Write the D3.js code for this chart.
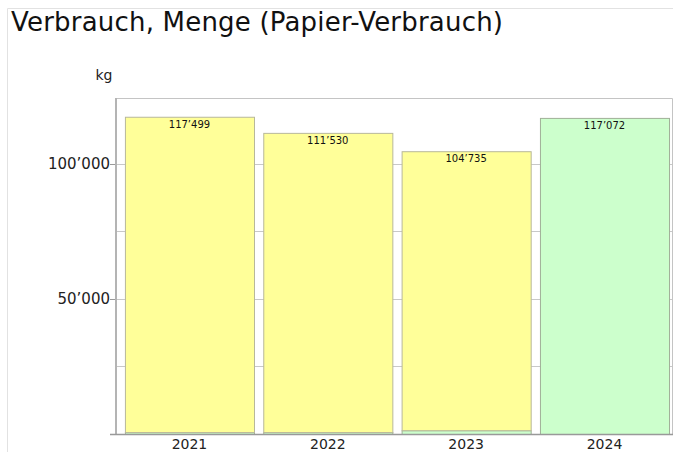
<!DOCTYPE html>
<html>
<head>
<meta charset="utf-8">
<script src="https://cdn.jsdelivr.net/npm/d3@7"></script>
<style>
  body { margin: 0; background: #fff; }
  svg { font-family: "DejaVu Sans", Verdana, sans-serif; }
</style>
</head>
<body>
<div id="chart"></div>
<script>
let width = 673,
    height = 452

// DATA
const years = ["2021", "2022", "2023", "2024"]
const recycling = [700, 700, 1400, 117072]
const frischfaser = [116799, 110830, 103335, 0]
const totals = [117499, 111530, 104735, 117072]
const yTicks = [25000, 50000, 75000, 100000]
const yLabels = [50000, 100000]

let svg = d3.select("#chart").append("svg")
    .attr("width", width)
    .attr("height", height)

//PAGE FRAME
svg.append("path")
    .attr("d", "M7.5," + height + "V8.5H" + width)
    .attr("fill", "none")
    .attr("stroke", "#e2e2e2")

//TITLE
svg.append("text")
    .attr("x", 11)
    .attr("y", 31)
    .attr("font-size", 26)
    .attr("fill", "#111")
    .attr("textLength", 492)
    .text("Verbrauch, Menge (Papier-Verbrauch)")

svg.append("text")
    .attr("x", 104)
    .attr("y", 80)
    .attr("text-anchor", "middle")
    .attr("font-size", 14)
    .attr("fill", "#222")
    .text("kg")

//SCALES
let plot = {left: 116, right: 672, top: 98, bottom: 434}
let x = d3.scaleBand()
    .domain(years)
    .range([plot.left, plot.right])
    .paddingInner(0.067)
    .paddingOuter(0.043)
    .align(0.75)
let y = d3.scaleLinear()
    .domain([0, 124444])
    .range([plot.bottom, plot.top])

let fmt = v => d3.format(",")(v).replace(/,/g, "\u2019")

//GRID
svg.append("g").selectAll("line")
    .data(yTicks)
    .enter().append("line")
    .attr("x1", plot.left)
    .attr("x2", plot.right)
    .attr("y1", d => Math.round(y(d)) + 0.5)
    .attr("y2", d => Math.round(y(d)) + 0.5)
    .attr("stroke", "#c8c8c8")

//FRAME top + right
svg.append("path")
    .attr("d", "M" + plot.left + "," + (plot.top + 0.5) + "H" + (plot.right + 0.5) + "V" + plot.bottom)
    .attr("fill", "none")
    .attr("stroke", "#c4c4c4")

//BARS (stacked)
let stackData = years.map((yr, i) => ({year: yr, recycling: recycling[i], frisch: frischfaser[i]}))
let series = d3.stack().keys(["recycling", "frisch"])(stackData)
let colors = {recycling: "#ccffcc", frisch: "#ffff99"}
let strokes = {recycling: "#a0b098", frisch: "#b8b89a"}

svg.append("g").selectAll("g")
    .data(series)
    .enter().append("g")
    .attr("fill", d => colors[d.key])
    .attr("stroke", d => strokes[d.key])
    .selectAll("rect")
    .data(d => d.filter(s => s[1] - s[0] > 0))
    .enter().append("rect")
    .attr("x", d => x(d.data.year) + 0.5)
    .attr("width", x.bandwidth())
    .attr("y", d => y(d[1]) + 0.5)
    .attr("height", d => Math.max(1, y(d[0]) - y(d[1])))

//VALUE LABELS
svg.append("g").selectAll("text")
    .data(years)
    .enter().append("text")
    .attr("x", d => x(d) + x.bandwidth() / 2)
    .attr("y", (d, i) => y(totals[i]) + 11)
    .attr("text-anchor", "middle")
    .attr("font-size", 10)
    .attr("fill", "#111")
    .text((d, i) => fmt(totals[i]))

//Y AXIS
svg.append("line")
    .attr("x1", plot.left)
    .attr("x2", plot.left)
    .attr("y1", plot.top)
    .attr("y2", plot.bottom)
    .attr("stroke", "#b4b4b4")
    .attr("stroke-width", 2)

let yAxis = svg.append("g")
    .attr("transform", "translate(" + (plot.left - 1) + ",0)")
    .call(d3.axisLeft(y).tickValues(yLabels).tickSize(5).tickFormat(fmt))
yAxis.select(".domain").remove()
yAxis.selectAll(".tick line").attr("stroke", "#999")
yAxis.selectAll(".tick text")
    .attr("font-family", "DejaVu Sans, Verdana, sans-serif")
    .attr("font-size", 15)
    .attr("fill", "#222")
    .attr("x", -5)

//X AXIS
svg.append("line")
    .attr("x1", plot.left - 6)
    .attr("x2", plot.right + 1)
    .attr("y1", plot.bottom + 0.5)
    .attr("y2", plot.bottom + 0.5)
    .attr("stroke", "#999")
    .attr("stroke-width", 1.5)

let xAxis = svg.append("g")
    .attr("transform", "translate(0," + plot.bottom + ")")
    .call(d3.axisBottom(x).tickSize(0).tickPadding(5))
xAxis.select(".domain").remove()
xAxis.selectAll(".tick text")
    .attr("font-family", "DejaVu Sans, Verdana, sans-serif")
    .attr("font-size", 14)
    .attr("fill", "#222")
</script>
</body>
</html>
